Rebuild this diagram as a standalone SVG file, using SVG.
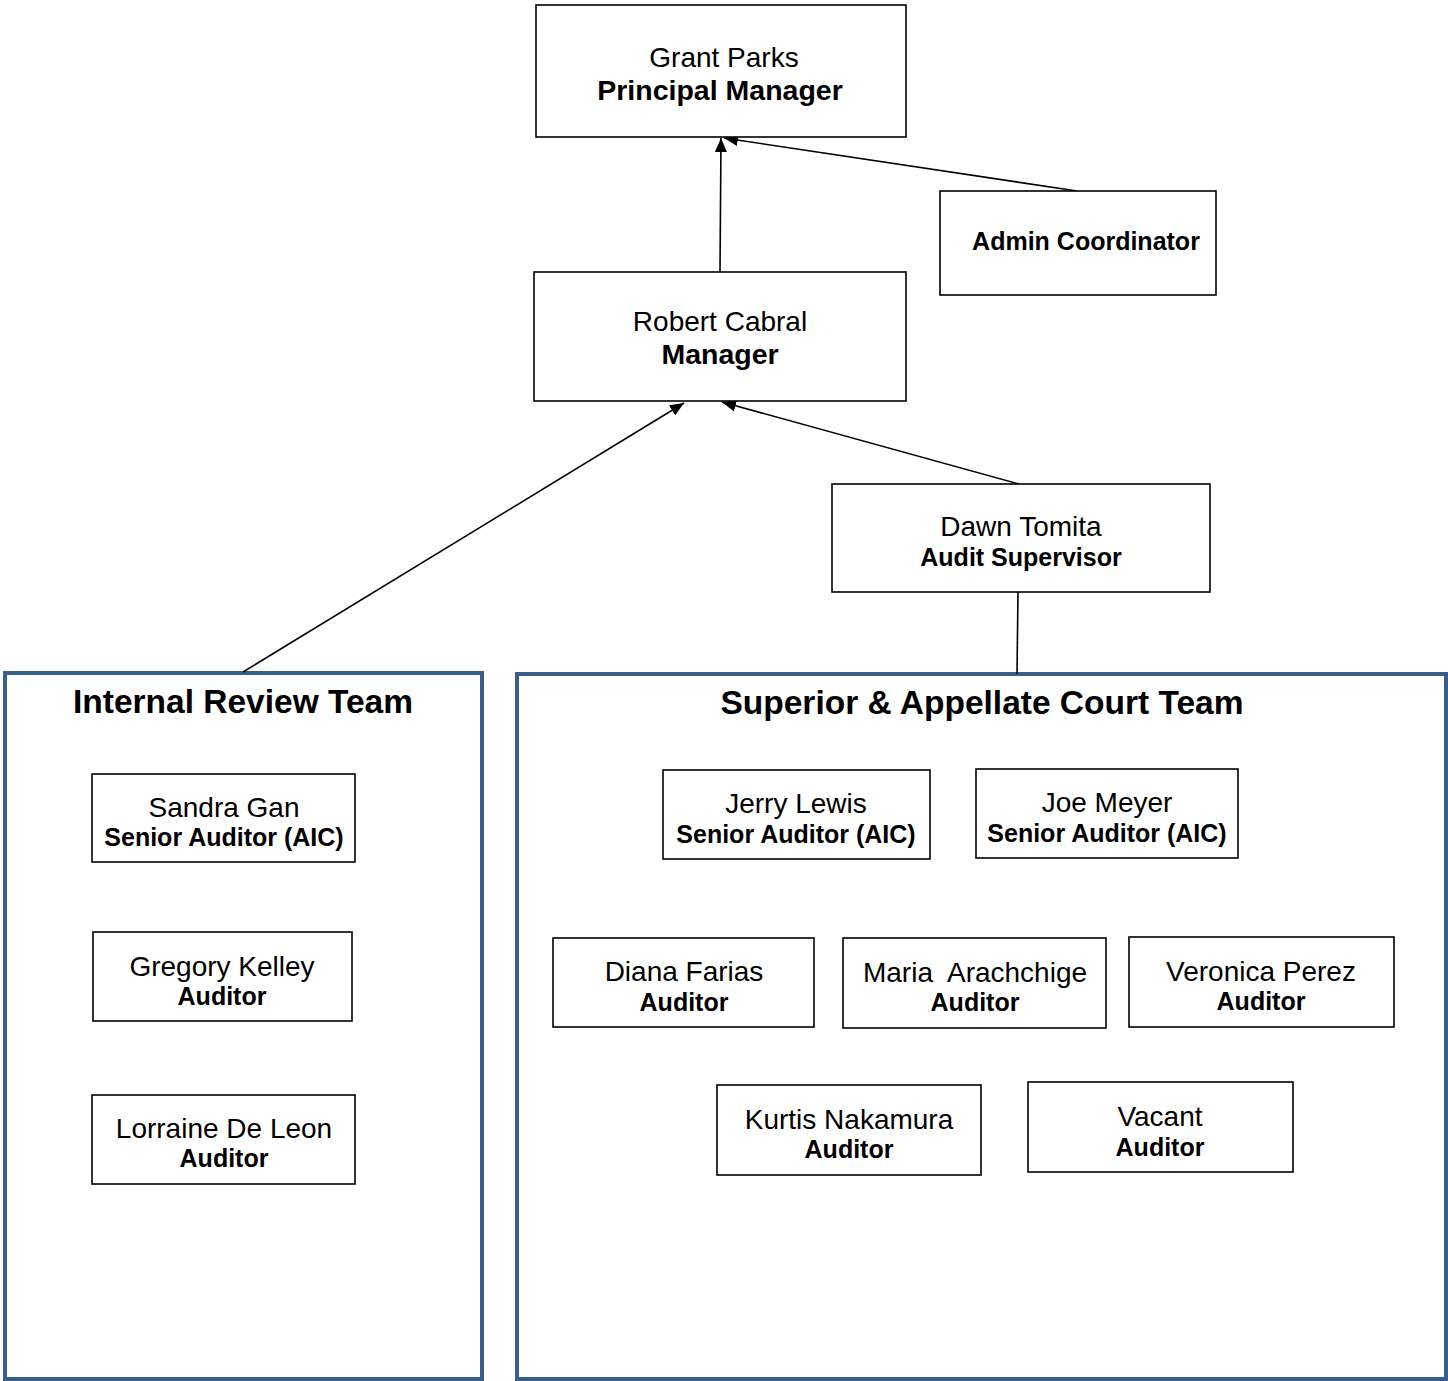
<svg xmlns="http://www.w3.org/2000/svg" width="1448" height="1381" viewBox="0 0 1448 1381">
<style>
.box{fill:#fff;stroke:#000;stroke-width:1.6}
.team{fill:#fff;stroke:#3a5e8c;stroke-width:4}
text{font-family:"Liberation Sans",Arial,sans-serif;text-anchor:middle;fill:#000}
.nm{font-size:28px}
.rl{font-size:25px;font-weight:bold}
.tnm{font-size:28px}
.trl{font-size:28.5px;font-weight:bold}
.tt{font-size:33.5px;font-weight:bold}
.con{stroke:#000;stroke-width:1.6;fill:none}
</style>
<defs>
<marker id="ah" viewBox="0 0 14 12" refX="14" refY="6" markerWidth="14" markerHeight="12" markerUnits="userSpaceOnUse" orient="auto">
<path d="M0,0 L14,6 L0,12 z" fill="#000"/>
</marker>
</defs>
<g id="team-internal">
<rect class="team" x="5" y="673" width="477" height="706"/>
<text class="tt" x="243" y="713">Internal Review Team</text>
</g>
<g id="team-superior">
<rect class="team" x="517" y="674" width="929" height="705"/>
<text class="tt" x="982" y="714">Superior &amp; Appellate Court Team</text>
</g>
<g id="connectors">
<line class="con" x1="720" y1="272" x2="721" y2="138" marker-end="url(#ah)"/>
<line class="con" x1="1077" y1="191" x2="724" y2="138" marker-end="url(#ah)"/>
<line class="con" x1="243" y1="672" x2="684" y2="403" marker-end="url(#ah)"/>
<line class="con" x1="1019" y1="484" x2="722" y2="402" marker-end="url(#ah)"/>
<line class="con" x1="1018" y1="592" x2="1017" y2="674"/>
</g>
<g id="grant-parks">
<rect class="box" x="536" y="5" width="370" height="132"/>
<text class="tnm" x="724" y="67">Grant Parks</text>
<text class="trl" x="720" y="100">Principal Manager</text>
</g>
<g id="admin-coordinator">
<rect class="box" x="940" y="191" width="276" height="104"/>
<text class="rl" x="1086" y="250">Admin Coordinator</text>
</g>
<g id="robert-cabral">
<rect class="box" x="534" y="272" width="372" height="129"/>
<text class="tnm" x="720" y="331">Robert Cabral</text>
<text class="trl" x="720" y="364">Manager</text>
</g>
<g id="dawn-tomita">
<rect class="box" x="832" y="484" width="378" height="108"/>
<text class="nm" x="1021" y="536">Dawn Tomita</text>
<text class="rl" x="1021" y="566">Audit Supervisor</text>
</g>
<g id="sandra-gan">
<rect class="box" x="92" y="774" width="263" height="88"/>
<text class="nm" x="224" y="817">Sandra Gan</text>
<text class="rl" x="224" y="846">Senior Auditor (AIC)</text>
</g>
<g id="gregory-kelley">
<rect class="box" x="93" y="932" width="259" height="89"/>
<text class="nm" x="222" y="976">Gregory Kelley</text>
<text class="rl" x="222" y="1005">Auditor</text>
</g>
<g id="lorraine-de-leon">
<rect class="box" x="92" y="1095" width="263" height="89"/>
<text class="nm" x="224" y="1138">Lorraine De Leon</text>
<text class="rl" x="224" y="1167">Auditor</text>
</g>
<g id="jerry-lewis">
<rect class="box" x="663" y="770" width="267" height="89"/>
<text class="nm" x="796" y="813">Jerry Lewis</text>
<text class="rl" x="796" y="843">Senior Auditor (AIC)</text>
</g>
<g id="joe-meyer">
<rect class="box" x="976" y="769" width="262" height="89"/>
<text class="nm" x="1107" y="812">Joe Meyer</text>
<text class="rl" x="1107" y="842">Senior Auditor (AIC)</text>
</g>
<g id="diana-farias">
<rect class="box" x="553" y="938" width="261" height="89"/>
<text class="nm" x="684" y="981">Diana Farias</text>
<text class="rl" x="684" y="1011">Auditor</text>
</g>
<g id="maria-arachchige">
<rect class="box" x="843" y="938" width="263" height="90"/>
<text class="nm" x="975" y="982" xml:space="preserve">Maria  Arachchige</text>
<text class="rl" x="975" y="1011">Auditor</text>
</g>
<g id="veronica-perez">
<rect class="box" x="1129" y="937" width="265" height="90"/>
<text class="nm" x="1261" y="981">Veronica Perez</text>
<text class="rl" x="1261" y="1010">Auditor</text>
</g>
<g id="kurtis-nakamura">
<rect class="box" x="717" y="1085" width="264" height="90"/>
<text class="nm" x="849" y="1129">Kurtis Nakamura</text>
<text class="rl" x="849" y="1158">Auditor</text>
</g>
<g id="vacant">
<rect class="box" x="1028" y="1082" width="265" height="90"/>
<text class="nm" x="1160" y="1126">Vacant</text>
<text class="rl" x="1160" y="1156">Auditor</text>
</g>
</svg>
